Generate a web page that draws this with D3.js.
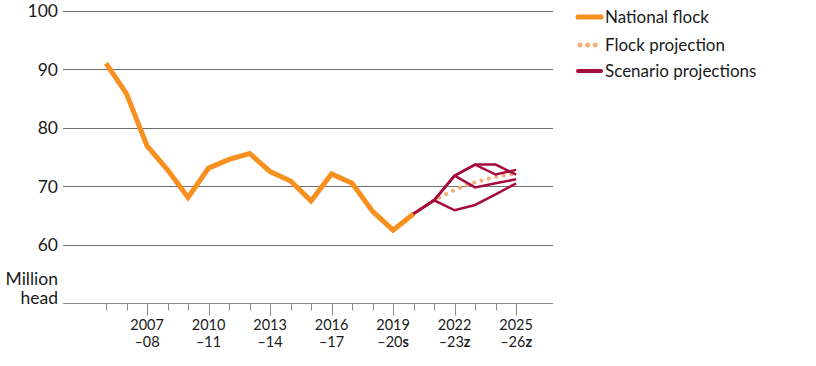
<!DOCTYPE html>
<html>
<head>
<meta charset="utf-8">
<script src="https://cdn.jsdelivr.net/npm/d3@7"></script>
<style>
  body { margin: 0; background: #fff; }
  text { font-family: Lato, "Noto Sans", sans-serif; fill: #1a1a1a; }
</style>
</head>
<body>
<div id="chart"></div>
<script>
// Sheep flock chart

// data
var years = [2005, 2006, 2007, 2008, 2009, 2010, 2011, 2012, 2013, 2014, 2015, 2016, 2017, 2018, 2019, 2020];
var nationalFlock = [91.0, 85.8, 76.9, 72.8, 68.1, 73.1, 74.6, 75.6, 72.5, 70.9, 67.5, 72.1, 70.5, 65.7, 62.5, 65.3];

var projYears = [2020, 2021, 2022, 2023, 2024, 2025];
var flockProjection = [65.3, 67.6, 69.4, 70.7, 71.6, 72.2];
var scenarios = [
  [65.3, 67.6, 71.8, 73.7, 73.7, 72.0],
  [65.3, 67.6, 71.8, 73.7, 72.0, 72.8],
  [65.3, 67.6, 71.8, 69.8, 70.5, 71.2],
  [65.3, 67.6, 65.9, 66.8, 68.6, 70.5]
];

var tickYears = d3.range(2005, 2026);
var labelYears = [2007, 2010, 2013, 2016, 2019, 2022, 2025];
var labelSuffix = { 2019: "s", 2022: "z", 2025: "z" };
var yTicks = [60, 70, 80, 90, 100];

var legendItems = [
  { name: "National flock", kind: "national" },
  { name: "Flock projection", kind: "proj" },
  { name: "Scenario projections", kind: "scen" }
];

var orange = "#f7901e";
var lightOrange = "#f5ae78";
var darkRed = "#a50d3c";

var svgWidth = 816;
var svgHeight = 366;

var svg = d3.select("#chart")
  .append("svg")
  .attr("width", svgWidth)
  .attr("height", svgHeight);

var x = d3.scaleLinear()
  .domain([2002.9, 2026.8])
  .range([63, 553]);

var y = d3.scaleLinear()
  .domain([50, 100])
  .range([303.3, 10.7]);

// gridlines
svg.append("g")
  .selectAll("line")
  .data(yTicks)
  .enter()
  .append("line")
  .attr("x1", x.range()[0])
  .attr("x2", x.range()[1])
  .attr("y1", d => Math.round(y(d)) + 0.5)
  .attr("y2", d => Math.round(y(d)) + 0.5)
  .attr("stroke", "#6e6e6e")
  .attr("stroke-width", 1);

// y labels
svg.append("g")
  .selectAll("text")
  .data(yTicks)
  .enter()
  .append("text")
  .attr("x", 58)
  .attr("y", d => y(d))
  .attr("dy", "0.36em")
  .attr("text-anchor", "end")
  .style("font-size", "17.5px")
  .text(d => d);

var unitLabel = svg.append("text")
  .attr("text-anchor", "end")
  .style("font-size", "17.5px");
unitLabel.append("tspan").attr("x", 58).attr("y", y(50) - 18).text("Million");
unitLabel.append("tspan").attr("x", 58).attr("y", y(50) + 1).text("head");

// x axis baseline
var baseY = Math.round(y(50)) + 0.5;
svg.append("line")
  .attr("x1", x.range()[0])
  .attr("x2", x.range()[1])
  .attr("y1", baseY)
  .attr("y2", baseY)
  .attr("stroke", "#8a8a8a");

svg.append("g")
  .selectAll("line")
  .data(tickYears)
  .enter()
  .append("line")
  .attr("x1", d => Math.round(x(d)) + 0.5)
  .attr("x2", d => Math.round(x(d)) + 0.5)
  .attr("y1", baseY)
  .attr("y2", d => baseY + (labelYears.indexOf(d) >= 0 ? 12 : 7))
  .attr("stroke", "#8a8a8a");

var xLabels = svg.append("g")
  .selectAll("text")
  .data(labelYears)
  .enter()
  .append("text")
  .attr("text-anchor", "middle")
  .style("font-size", "14.5px");

xLabels.append("tspan")
  .attr("x", d => x(d))
  .attr("y", 330)
  .text(d => d);

var second = xLabels.append("tspan")
  .attr("x", d => x(d))
  .attr("y", 347)
  .text(d => "\u2013" + String(d + 1).slice(2));
second.append("tspan")
  .style("font-weight", "bold")
  .text(d => labelSuffix[d] || "");

// lines
var line = d3.line()
  .x(d => x(d[0]))
  .y(d => y(d[1]));

svg.append("path")
  .datum(d3.zip(projYears, flockProjection))
  .attr("d", line)
  .attr("fill", "none")
  .attr("stroke", lightOrange)
  .attr("stroke-width", 4)
  .attr("stroke-linecap", "round")
  .attr("stroke-dasharray", "0.1 7.5");

svg.append("path")
  .datum(d3.zip(years, nationalFlock))
  .attr("d", line)
  .attr("fill", "none")
  .attr("stroke", orange)
  .attr("stroke-width", 5)
  .attr("stroke-linejoin", "miter");

svg.append("g")
  .selectAll("path")
  .data(scenarios)
  .enter()
  .append("path")
  .attr("d", s => line(d3.zip(projYears, s)))
  .attr("fill", "none")
  .attr("stroke", darkRed)
  .attr("stroke-width", 2.5);

// legend
var legend = svg.append("g")
  .selectAll("g")
  .data(legendItems)
  .enter()
  .append("g")
  .attr("transform", (d, i) => `translate(0, ${[17, 45, 71][i]})`);

legend.append("line")
  .attr("x1", d => d.kind === "proj" ? 580 : 578)
  .attr("x2", 601)
  .attr("y1", 0)
  .attr("y2", 0)
  .attr("stroke", d => d.kind === "national" ? orange : d.kind === "proj" ? lightOrange : darkRed)
  .attr("stroke-width", d => d.kind === "scen" ? 4 : 5)
  .attr("stroke-linecap", "round")
  .attr("stroke-dasharray", d => d.kind === "proj" ? "0.1 7.5" : null);

legend.append("text")
  .attr("x", 605)
  .attr("y", 0)
  .attr("dy", "0.36em")
  .style("font-size", "17px")
  .text(d => d.name);
</script>
</body>
</html>
